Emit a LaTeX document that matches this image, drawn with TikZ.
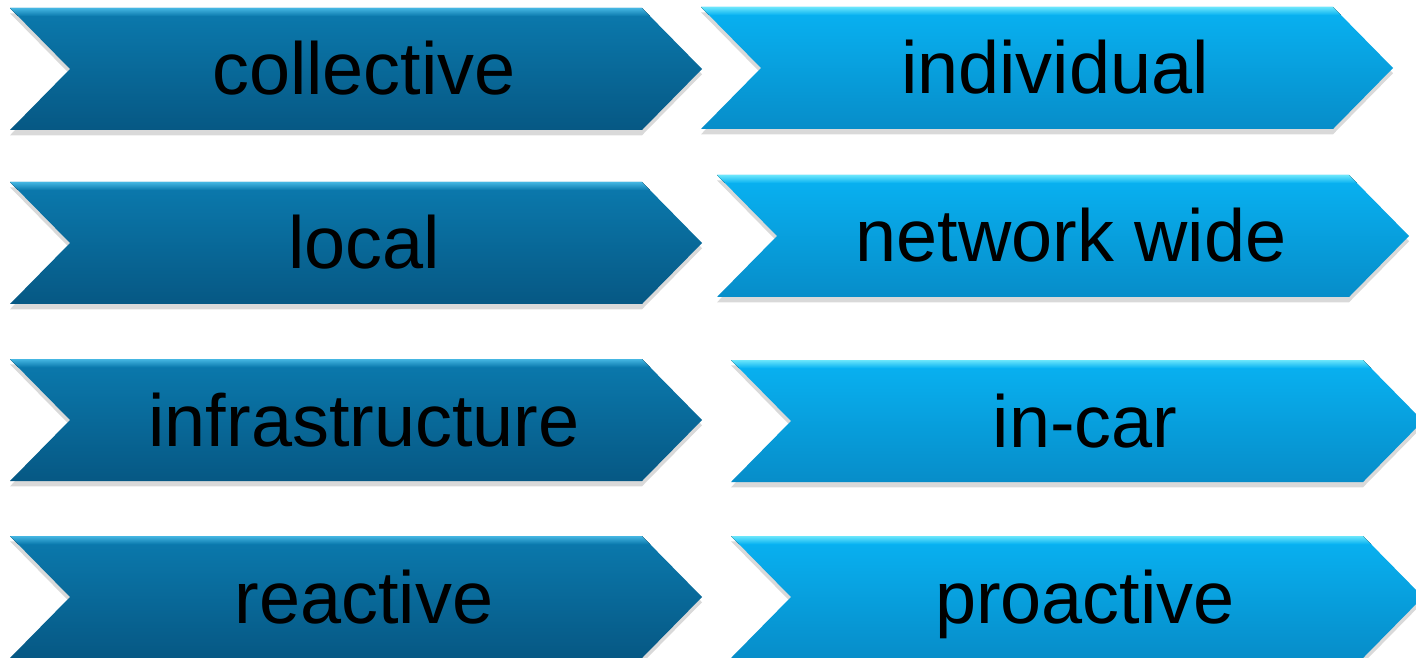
\documentclass[tikz,border=0pt]{standalone}
\usepackage{fontspec}
\setmainfont{Liberation Sans}
\usetikzlibrary{shadows}

\definecolor{darktop}{HTML}{0B7AAE}
\definecolor{darkbot}{HTML}{065884}
\definecolor{darkrim}{HTML}{45B6E2}
\definecolor{lighttop}{HTML}{08B2F2}
\definecolor{lightbot}{HTML}{078DC9}
\definecolor{lightrim}{HTML}{6BE6FB}

\tikzset{
  chevshadow/.style={drop shadow={opacity=.3,shadow xshift=0pt,shadow yshift=-1.5pt}},
  chevdark/.style={chevshadow,top color=darktop,bottom color=darkbot},
  chevlight/.style={chevshadow,top color=lighttop,bottom color=lightbot},
  chevlabel/.style={anchor=base,inner sep=0pt,text=black,
    font=\fontsize{21pt}{25pt}\selectfont}
}

\begin{document}
\begin{tikzpicture}[x=0.01cm,y=-0.01cm]
      \useasboundingbox (0,0) rectangle (1416,658);
      \clip             (0,0) rectangle (1416,658);
      % left column
      \foreach \T/\txt/\nm in {8/collective/collective,182/local/local,
        359/infrastructure/infra,536/reactive/reactive}
      {
        \path[chevdark] (10,\T) -- ++(632,0) -- ++(60,61) -- ++(-60,61)
          -- ++(-632,0) -- ++(60,-61) -- cycle;
        \begin{scope}
          \clip (10,\T) -- ++(632,0) -- ++(60,61) -- ++(-60,61)
            -- ++(-632,0) -- ++(60,-61) -- cycle;
          \fill[top color=darkrim,bottom color=darktop] (0,\T) rectangle (720,\T+8);
        \end{scope}
        \node[chevlabel] (\nm) at (364,\T+87) {\txt};
      }
      % right column
      \foreach \L/\T/\txt/\nm in {701/7/individual/individual,717/175/network wide/netwide,
        731/360/in-car/incar,731/536/proactive/proactive}
      {
        \path[chevlight] (\L,\T) -- ++(632,0) -- ++(60,61) -- ++(-60,61)
          -- ++(-632,0) -- ++(60,-61) -- cycle;
        \begin{scope}
          \clip (\L,\T) -- ++(632,0) -- ++(60,61) -- ++(-60,61)
            -- ++(-632,0) -- ++(60,-61) -- cycle;
          \fill[top color=lightrim,bottom color=lighttop] (\L,\T) rectangle (\L+720,\T+8);
        \end{scope}
        \node[chevlabel] (\nm) at (\L+354,\T+87) {\txt};
      }
    \end{tikzpicture}
\end{document}
